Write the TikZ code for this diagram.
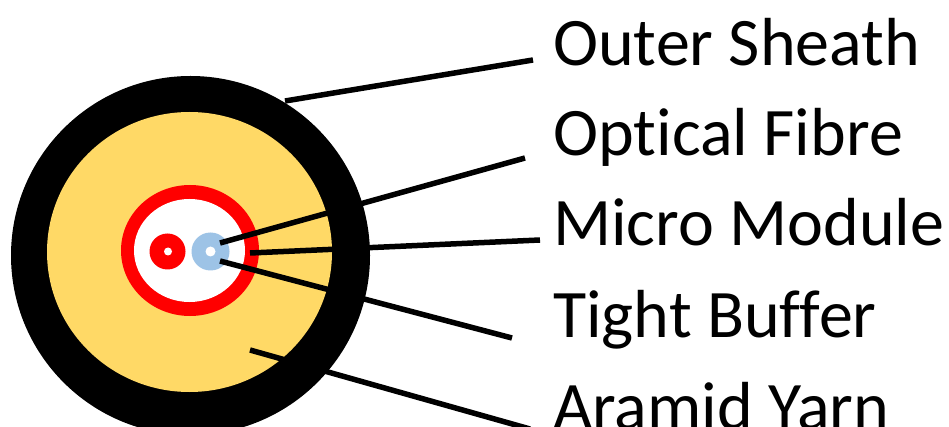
\documentclass[tikz,border=0pt]{standalone}
\usepackage{fontspec}
\setmainfont[Ligatures=NoCommon]{Carlito}
\usetikzlibrary{shapes.geometric,positioning}
\definecolor{Yarn}{RGB}{255,217,102}
\definecolor{Buffer}{RGB}{157,195,230}
\definecolor{Module}{RGB}{255,0,0}
\tikzset{
  tdisc/.style={circle,draw=none,inner sep=0pt},
  toval/.style={ellipse,draw=none,inner sep=0pt},
  tlabel/.style={anchor=base west,inner sep=0pt,font=\fontsize{68}{68}\selectfont},
  tline/.style={black,line width=5.5pt},
}

\begin{document}
\begin{tikzpicture}[x=1pt,y=-1pt]
    \useasboundingbox (0,0) rectangle (949,427);
    \clip (0,0) rectangle (949,427);
    % cable
    \node[tdisc,fill=black,minimum size=359pt] (sheath) at (190.5,255.5) {};
    \node[toval,fill=Yarn,minimum width=285pt,minimum height=280pt] (yarn) at (189.5,252) {};
    \node[toval,fill=Module,minimum width=138pt,minimum height=131pt] (module) at (190,250.5) {};
    \node[toval,fill=white,minimum width=111pt,minimum height=103pt] (core) at (189.5,250.5) {};
    \node[tdisc,fill=Module,minimum size=36pt] (bufferA) at (167.5,251.5) {};
    \node[tdisc,fill=white,minimum size=8pt] (fibreA) at (168,251.5) {};
    \node[tdisc,fill=Buffer,minimum size=38pt] (bufferB) at (210.5,251.5) {};
    \node[tdisc,fill=white,minimum size=10pt] (fibreB) at (210.5,251.5) {};
    % labels
    \node[tlabel] (outer) at (553,65.5) {Outer Sheath};
    \node[tlabel] (optical) at (553,155.5) {Optical Fibre};
    \node[tlabel] (micro) at (553,246) {Micro Module};
    \node[tlabel] (tight) at (553,337) {Tight Buffer};
    \node[tlabel] (aramid) at (553,429) {Aramid Yarn};
    % line ends
    \coordinate (outerA) at (285,101);
    \coordinate (outerB) at (533,60);
    \coordinate (opticalA) at (220,243);
    \coordinate (opticalB) at (525,158);
    \coordinate (microA) at (250,253);
    \coordinate (microB) at (540,240);
    \coordinate (tightA) at (220,261);
    \coordinate (tightB) at (512,338);
    \coordinate (aramidA) at (250,350);
    \coordinate (aramidB) at (530,429);
    \draw[tline] (outerA) -- (outerB);
    \draw[tline] (opticalA) -- (opticalB);
    \draw[tline] (microA) -- (microB);
    \draw[tline] (tightA) -- (tightB);
    \draw[tline] (aramidA) -- (aramidB);
\end{tikzpicture}
\end{document}
